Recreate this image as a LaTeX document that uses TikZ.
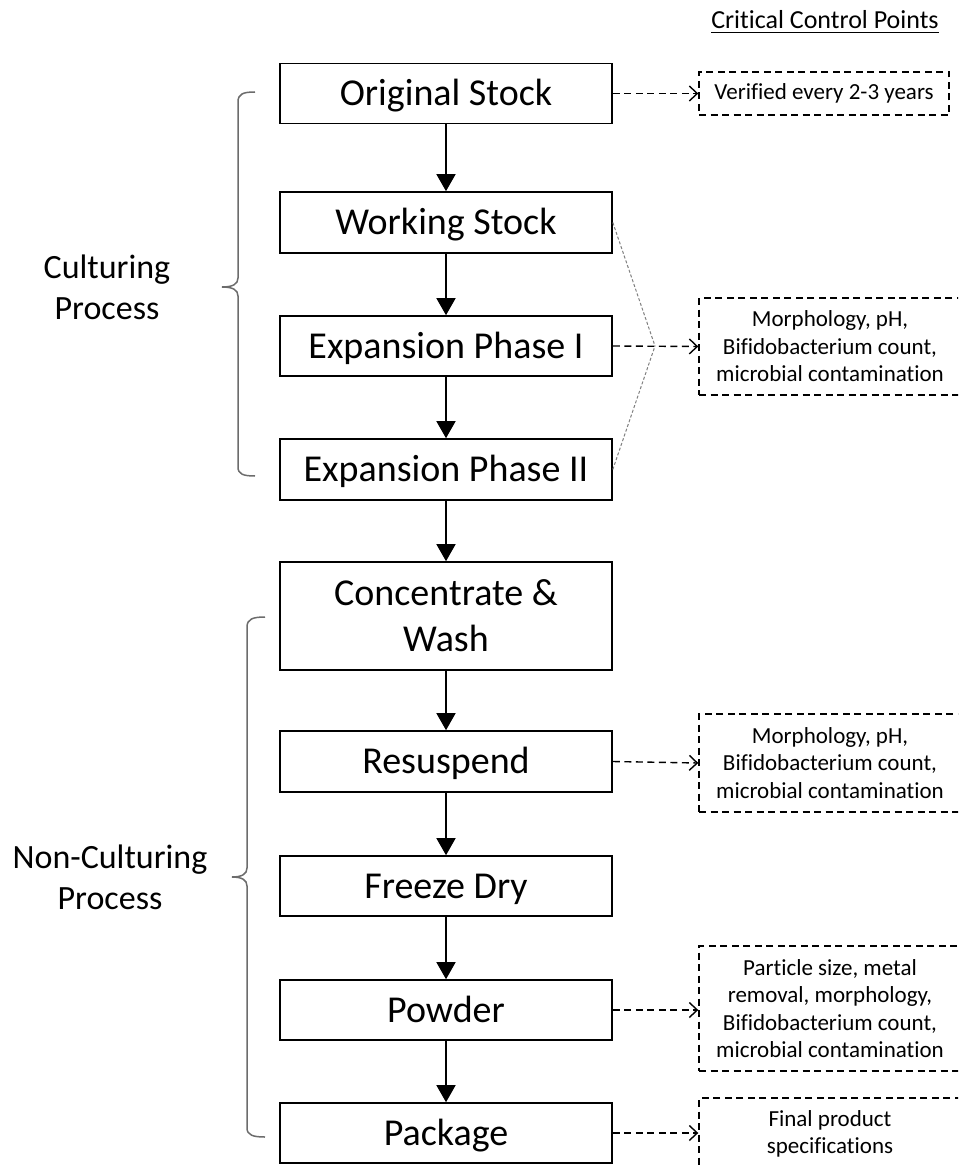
\documentclass[tikz,border=0pt]{standalone}
\usepackage{fontspec}
\setmainfont[Ligatures={NoCommon,TeX}]{Carlito}
\usetikzlibrary{arrows.meta}
\begin{document}
\begin{tikzpicture}[x=1pt,y=-1pt,
  stepbase/.style={draw=black, line width=1.6pt, fill=white, minimum width=332pt,
    minimum height=60pt, inner sep=0pt, align=center,
    font=\fontsize{38}{46}\selectfont},
  stepbox/.style={stepbase, text height=31pt, text depth=7pt},
  ccpbox/.style={draw=black, line width=1.4pt, dash pattern=on 7pt off 4.5pt,
    inner sep=0pt, align=center, font=\fontsize{23}{27.5}\selectfont},
  sidelabel/.style={align=center, inner sep=0pt, font=\fontsize{34}{41}\selectfont},
  flow/.style={line width=1.5pt, -{Triangle[length=17pt,width=19pt]}},
  ccparrow/.style={line width=1.4pt, dash pattern=on 7pt off 4.5pt,
    -{Straight Barb[length=8pt,width=15pt,line width=1.4pt]}},
  linkline/.style={draw=gray, line width=1pt, dash pattern=on 3pt off 2pt},
  bracestyle/.style={draw=gray!85!black, line width=1.5pt}
]
\fill[white] (0,0) rectangle (958,1166);
\clip (0,0) rectangle (958,1166);

% process boxes
\node[stepbox] (orig) at (446,93.5) {Original Stock};
\node[stepbox, minimum height=61pt] (work) at (446,222.5) {Working Stock};
\node[stepbox] (exp1) at (446,346) {Expansion Phase I};
\node[stepbox, minimum height=61pt] (exp2) at (446,469.5) {Expansion Phase II};
\node[stepbase, minimum height=108pt] (conc) at (446,616) {Concentrate \&\\Wash};
\node[stepbox, minimum height=61pt] (resus) at (446,761.5) {Resuspend};
\node[stepbox] (freeze) at (446,886) {Freeze Dry};
\node[stepbox] (powder) at (446,1010) {Powder};
\node[stepbox] (pack) at (446,1133) {Package};

\draw[flow] (orig) -- (work);
\draw[flow] (work) -- (exp1);
\draw[flow] (exp1) -- (exp2);
\draw[flow] (exp2) -- (conc);
\draw[flow] (conc) -- (resus);
\draw[flow] (resus) -- (freeze);
\draw[flow] (freeze) -- (powder);
\draw[flow] (powder) -- (pack);

% title
\node[inner sep=0pt, font=\fontsize{26}{31}\selectfont, anchor=base] (title) at (825,29) {Critical Control Points};
\draw[line width=1.2pt] ([yshift=-3.5pt]title.base west) -- ([yshift=-3.5pt]title.base east);

% control point boxes
\node[ccpbox, minimum width=250pt, minimum height=43pt, text height=16pt, text depth=4pt] (ccp0) at (824,93.5) {Verified every 2-3 years};
\node[ccpbox, minimum width=262pt, minimum height=97pt] (ccp1) at (830,346.5) {Morphology, pH,\\Bifidobacterium count,\\microbial contamination};
\node[ccpbox, minimum width=262pt, minimum height=98pt] (ccp2) at (830,763) {Morphology, pH,\\Bifidobacterium count,\\microbial contamination};
\node[ccpbox, minimum width=262pt, minimum height=125pt] (ccp3) at (830,1008.5) {Particle size, metal\\removal, morphology,\\Bifidobacterium count,\\microbial contamination};
\node[ccpbox, minimum width=262pt, minimum height=72pt] (ccp4) at (830,1134) {Final product\\specifications};

\coordinate (conv) at (655,346);
\draw[ccparrow] (orig.east) -- (ccp0.west);
\draw[ccparrow] (exp1.east) -- (ccp1.west);
\draw[ccparrow] (resus.east) -- (ccp2.west);
\draw[ccparrow] (powder.east) -- (ccp3.west |- powder.east);
\draw[ccparrow] (pack.east) -- (ccp4.west |- pack.east);
\draw[linkline] (work.east) -- (conv);
\draw[linkline] (exp2.east) -- (conv);

% side labels and braces
\node[sidelabel] (cult) at (107,287) {Culturing\\Process};
\node[sidelabel] (noncult) at (110,877) {Non-Culturing\\Process};

\draw[bracestyle] (255,92) .. controls (243,92) and (238,94) .. (238,102)
  -- (238,278) .. controls (238,284) and (233,287) .. (222,287)
  .. controls (233,287) and (238,290) .. (238,296)
  -- (238,467) .. controls (238,474) and (243,476) .. (255,476);
\draw[bracestyle] (265,617) .. controls (253,617) and (247,619) .. (247,627)
  -- (247,868) .. controls (247,874) and (242,877) .. (232,877)
  .. controls (242,877) and (247,880) .. (247,886)
  -- (247,1128) .. controls (247,1135) and (253,1137) .. (265,1137);
\end{tikzpicture}
\end{document}
